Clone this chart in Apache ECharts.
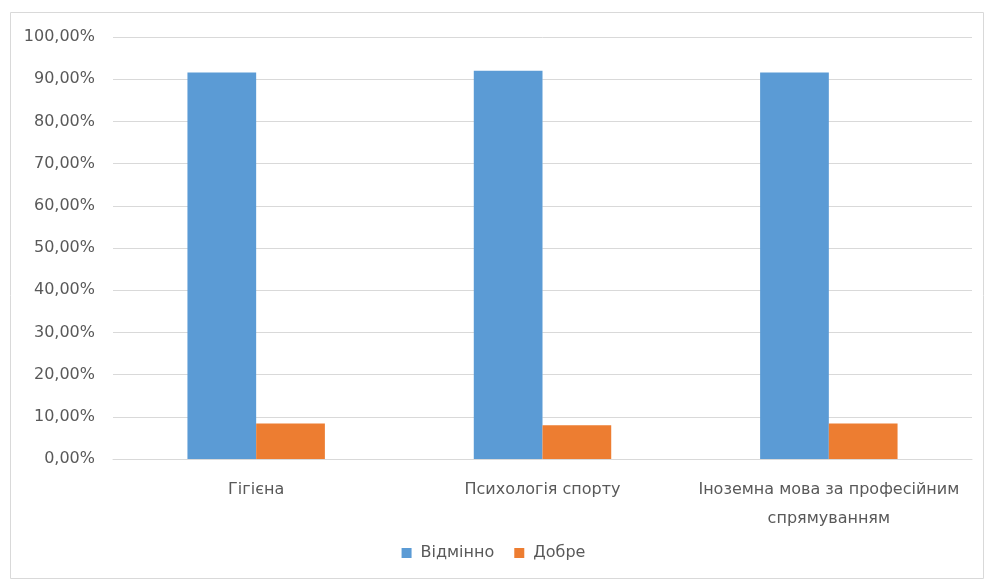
<!DOCTYPE html>
<html><head><meta charset="utf-8">
<script src="https://cdn.jsdelivr.net/npm/echarts@6/dist/echarts.min.js"></script>
<style>html,body{margin:0;padding:0;background:#fff}#c{width:987px;height:584px}</style>
</head><body><div id="c"></div>
<script>
const categories = ['Гігієна', 'Психологія спорту', 'Іноземна мова за професійним\nспрямуванням'];
const excellent = [91.6, 92.0, 91.6];
const good = [8.4, 8.0, 8.4];
const seriesNames = ['Відмінно', 'Добре'];
const fmt = v => v.toFixed(2).replace('.', ',') + '%';
const chart = echarts.init(document.getElementById('c'));
chart.setOption({
  animation: false,
  textStyle: { fontFamily: '"DejaVu Sans", "Open Sans", sans-serif' },
  graphic: [{ type: 'rect', shape: { x: 10.5, y: 12.5, width: 973, height: 566 }, style: { fill: 'none', stroke: '#d9d9d9', lineWidth: 1 } }],
  grid: { left: 113, right: 15, top: 37, bottom: 125 },
  legend: {
    bottom: 18, left: 'center', itemWidth: 10, itemHeight: 10, itemGap: 20,
    icon: 'rect', textStyle: { color: '#595959', fontSize: 16, padding: [0, 0, 0, 4] },
    data: seriesNames
  },
  xAxis: {
    type: 'category', data: categories,
    axisLine: { lineStyle: { color: '#d9d9d9' } },
    axisTick: { show: false },
    axisLabel: { color: '#595959', fontSize: 16, margin: 16, lineHeight: 29, interval: 0 }
  },
  yAxis: {
    type: 'value', min: 0, max: 100, interval: 10,
    axisLine: { show: false }, axisTick: { show: false },
    splitLine: { lineStyle: { color: '#d9d9d9' } },
    axisLabel: { color: '#595959', fontSize: 16, margin: 18, formatter: fmt }
  },
  series: [
    { name: seriesNames[0], type: 'bar', data: excellent, itemStyle: { color: '#5b9bd5' }, barGap: '0%', barCategoryGap: '52%' },
    { name: seriesNames[1], type: 'bar', data: good, itemStyle: { color: '#ed7d31' }, barGap: '0%', barCategoryGap: '52%' }
  ]
});
</script></body></html>
